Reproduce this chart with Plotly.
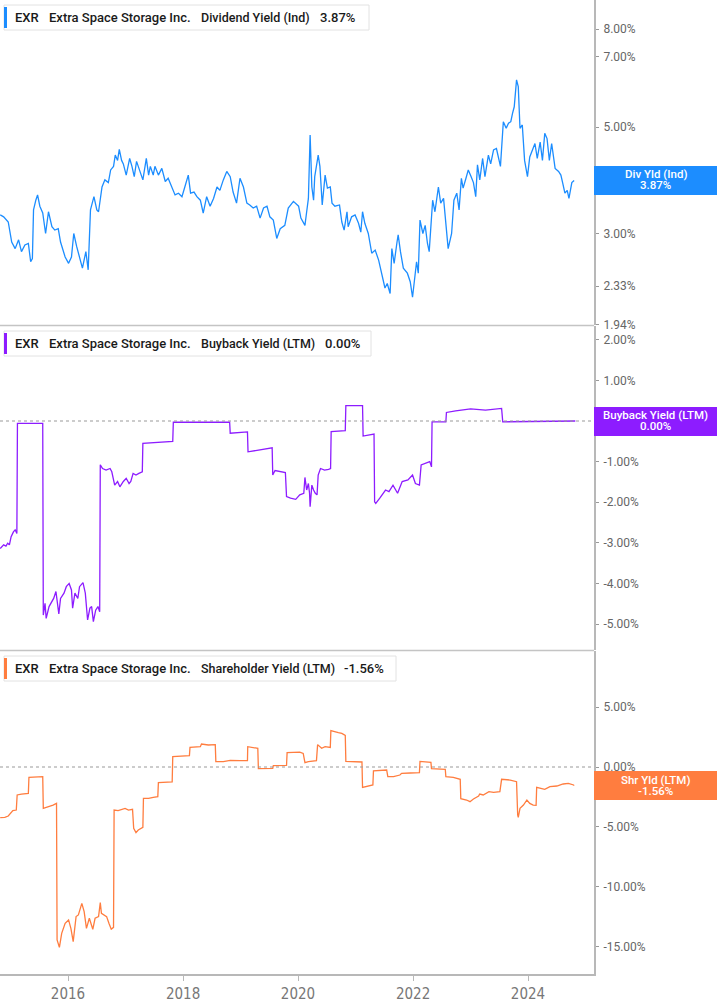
import numpy as np
import pandas as pd
import plotly.graph_objects as go

# ---------------- data (dates as decimal years, values in %) ----------------
div_t = [2014.82, 2014.88, 2014.96, 2015.02, 2015.08, 2015.14, 2015.19, 2015.25, 2015.31, 2015.35,
         2015.38, 2015.40, 2015.44, 2015.47, 2015.51, 2015.56, 2015.61, 2015.66, 2015.72, 2015.77,
         2015.83, 2015.87, 2015.95, 2016.01, 2016.06, 2016.10, 2016.15, 2016.21, 2016.25, 2016.31,
         2016.35, 2016.39, 2016.45, 2016.50, 2016.53, 2016.59, 2016.64, 2016.70, 2016.74, 2016.79,
         2016.82, 2016.86, 2016.89, 2016.93, 2016.96, 2017.01, 2017.07, 2017.11, 2017.15, 2017.19,
         2017.24, 2017.30, 2017.36, 2017.40, 2017.43, 2017.48, 2017.51, 2017.57, 2017.63, 2017.69,
         2017.74, 2017.80, 2017.86, 2017.92, 2017.98, 2018.03, 2018.09, 2018.13, 2018.19, 2018.24,
         2018.30, 2018.35, 2018.41, 2018.47, 2018.53, 2018.59, 2018.64, 2018.70, 2018.76, 2018.82,
         2018.87, 2018.93, 2018.99, 2019.05, 2019.11, 2019.16, 2019.22, 2019.28, 2019.34, 2019.40,
         2019.46, 2019.51, 2019.57, 2019.63, 2019.69, 2019.77, 2019.83, 2019.92, 2020.01, 2020.05,
         2020.12, 2020.15, 2020.18, 2020.21, 2020.24, 2020.27, 2020.29, 2020.35, 2020.38, 2020.42,
         2020.47, 2020.51, 2020.56, 2020.59, 2020.64, 2020.72, 2020.76, 2020.80, 2020.85, 2020.87,
         2020.93, 2020.99, 2021.05, 2021.09, 2021.12, 2021.16, 2021.22, 2021.28, 2021.34, 2021.40,
         2021.45, 2021.51, 2021.55, 2021.60, 2021.63, 2021.67, 2021.72, 2021.74, 2021.78, 2021.83,
         2021.90, 2021.95, 2021.99, 2022.02, 2022.06, 2022.09, 2022.12, 2022.17, 2022.21, 2022.25,
         2022.28, 2022.34, 2022.38, 2022.44, 2022.48, 2022.53, 2022.57, 2022.61, 2022.67, 2022.71,
         2022.76, 2022.80, 2022.84, 2022.87, 2022.92, 2022.96, 2023.01, 2023.05, 2023.09, 2023.12,
         2023.16, 2023.21, 2023.25, 2023.31, 2023.35, 2023.40, 2023.45, 2023.52, 2023.57, 2023.62,
         2023.66, 2023.70, 2023.73, 2023.76, 2023.80, 2023.83, 2023.86, 2023.90, 2023.94, 2023.99,
         2024.03, 2024.08, 2024.12, 2024.16, 2024.21, 2024.25, 2024.29, 2024.33, 2024.37, 2024.41,
         2024.47, 2024.53, 2024.57, 2024.60, 2024.64, 2024.68, 2024.71, 2024.76, 2024.80]
div_v = [3.28, 3.25, 3.17, 2.88, 2.79, 2.91, 2.75, 2.84, 2.86, 2.62,
         2.66, 3.36, 3.52, 3.61, 3.42, 3.31, 3.00, 3.33, 3.10, 3.05,
         3.07, 2.88, 2.68, 2.60, 2.68, 3.00, 2.82, 2.64, 2.54, 2.75,
         2.52, 3.36, 3.58, 3.36, 3.33, 3.75, 3.88, 3.83, 4.07, 4.14,
         4.37, 4.26, 4.49, 4.26, 4.19, 3.97, 4.30, 4.14, 3.94, 4.24,
         4.07, 3.88, 4.30, 3.97, 4.14, 3.97, 4.14, 3.97, 4.10, 3.85,
         3.91, 3.77, 3.61, 3.64, 3.58, 3.75, 3.97, 3.64, 3.66, 3.58,
         3.52, 3.31, 3.58, 3.42, 3.55, 3.75, 3.69, 3.88, 4.04, 3.94,
         3.66, 3.47, 3.91, 3.75, 3.47, 3.44, 3.39, 3.42, 3.23, 3.39,
         3.42, 3.25, 3.20, 2.93, 3.07, 3.12, 3.39, 3.50, 3.42, 3.23,
         3.12, 3.33, 3.55, 4.81, 3.75, 3.52, 3.94, 4.37, 4.14, 3.44,
         3.97, 3.73, 3.75, 3.47, 3.42, 3.44, 3.17, 3.05, 3.33, 3.10,
         3.25, 3.28, 3.15, 3.02, 3.33, 3.15, 3.00, 2.73, 2.77, 2.64,
         2.48, 2.31, 2.36, 2.25, 2.79, 2.60, 2.88, 2.98, 2.75, 2.54,
         2.48, 2.38, 2.21, 2.40, 2.62, 2.48, 3.20, 3.00, 3.12, 2.86,
         2.75, 3.52, 3.33, 3.75, 3.47, 3.55, 3.20, 2.79, 3.00, 3.52,
         3.64, 3.36, 3.91, 3.73, 3.91, 4.07, 3.94, 3.83, 3.58, 4.17,
         3.88, 4.30, 3.94, 4.37, 4.19, 4.48, 4.51, 4.14, 5.13, 4.97,
         5.09, 5.13, 5.34, 5.51, 6.27, 6.07, 4.97, 5.05, 4.26, 3.94,
         4.33, 4.51, 4.62, 4.30, 4.65, 4.26, 4.85, 4.73, 4.26, 4.62,
         4.10, 4.04, 3.97, 3.83, 3.64, 3.69, 3.55, 3.83, 3.87]

bb_t = [2014.82, 2014.88, 2014.92, 2014.95, 2014.98, 2015.01, 2015.05, 2015.08, 2015.11, 2015.12,
        2015.56, 2015.57, 2015.60, 2015.62, 2015.67, 2015.71, 2015.75, 2015.79, 2015.84, 2015.87,
        2015.93, 2015.97, 2016.02, 2016.06, 2016.08, 2016.12, 2016.17, 2016.20, 2016.26, 2016.30,
        2016.34, 2016.38, 2016.41, 2016.44, 2016.48, 2016.52, 2016.55, 2016.56, 2016.60, 2016.66,
        2016.73, 2016.76, 2016.81, 2016.86, 2016.90, 2016.96, 2017.01, 2017.06, 2017.09, 2017.13,
        2017.18, 2017.23, 2017.29, 2017.30, 2017.82, 2017.83, 2018.81, 2018.82, 2019.12, 2019.13,
        2019.55, 2019.56, 2019.60, 2019.78, 2019.80, 2019.87, 2019.96, 2020.03, 2020.10, 2020.12,
        2020.15, 2020.18, 2020.20, 2020.21, 2020.24, 2020.27, 2020.30, 2020.33, 2020.35, 2020.39,
        2020.46, 2020.53, 2020.565, 2020.575, 2020.82, 2020.83, 2021.12, 2021.13, 2021.32, 2021.33,
        2021.35, 2021.42, 2021.52, 2021.58, 2021.65, 2021.73, 2021.81, 2021.91, 2021.99, 2022.04,
        2022.11, 2022.14, 2022.21, 2022.29, 2022.32, 2022.33, 2022.57, 2022.58, 2022.74, 2023.00,
        2023.26, 2023.54, 2023.56, 2024.82]
bb_v = [-3.14, -3.05, -3.08, -3.01, -3.05, -2.85, -2.73, -2.68, -2.77, -0.06,
        -0.06, -4.78, -4.49, -4.86, -4.57, -4.45, -4.37, -4.20, -4.75, -4.37,
        -4.24, -4.08, -4.00, -4.16, -4.61, -4.24, -4.37, -4.08, -3.98, -4.24,
        -4.90, -4.61, -4.57, -4.94, -4.66, -4.57, -4.70, -1.08, -1.17, -1.21,
        -1.17, -1.25, -1.58, -1.49, -1.62, -1.49, -1.41, -1.54, -1.49, -1.29,
        -1.33, -1.29, -1.25, -0.55, -0.50, -0.03, -0.03, -0.30, -0.27, -0.76,
        -0.66, -1.33, -1.22, -1.27, -1.86, -1.90, -1.93, -1.82, -1.78, -1.39,
        -1.70, -1.54, -1.78, -2.11, -1.58, -1.70, -1.78, -1.82, -1.33, -1.17,
        -1.21, -1.19, -1.17, -0.26, -0.24, 0.38, 0.38, -0.37, -0.32, -1.99,
        -2.03, -1.90, -1.70, -1.74, -1.58, -1.78, -1.49, -1.45, -1.33, -1.54,
        -1.58, -1.08, -1.04, -1.00, -1.13, -0.02, -0.02, 0.21, 0.25, 0.30,
        0.27, 0.31, -0.02, 0.00]

shy_t = [2014.82, 2014.90, 2014.96, 2015.00, 2015.04, 2015.10, 2015.115, 2015.19, 2015.31, 2015.32,
         2015.56, 2015.57, 2015.63, 2015.69, 2015.74, 2015.80, 2015.81, 2015.85, 2015.89, 2015.95,
         2016.01, 2016.05, 2016.09, 2016.14, 2016.18, 2016.24, 2016.28, 2016.32, 2016.37, 2016.43,
         2016.47, 2016.53, 2016.56, 2016.58, 2016.63, 2016.67, 2016.71, 2016.75, 2016.79, 2016.80,
         2016.87, 2016.93, 2016.99, 2017.05, 2017.12, 2017.14, 2017.18, 2017.22, 2017.30, 2017.31,
         2017.40, 2017.48, 2017.56, 2017.57, 2017.72, 2017.81, 2017.82, 2017.95, 2018.11, 2018.12,
         2018.30, 2018.32, 2018.44, 2018.56, 2018.57, 2018.70, 2018.82, 2018.99, 2019.12, 2019.125,
         2019.22, 2019.30, 2019.31, 2019.45, 2019.56, 2019.57, 2019.80, 2019.81, 2019.92, 2020.03,
         2020.09, 2020.12, 2020.18, 2020.27, 2020.32, 2020.34, 2020.38, 2020.41, 2020.47, 2020.56,
         2020.57, 2020.64, 2020.70, 2020.76, 2020.82, 2020.83, 2020.96, 2021.11, 2021.12, 2021.22,
         2021.30, 2021.31, 2021.43, 2021.54, 2021.56, 2021.66, 2021.77, 2021.80, 2021.95, 2022.11,
         2022.12, 2022.24, 2022.31, 2022.32, 2022.44, 2022.56, 2022.57, 2022.70, 2022.82, 2022.83,
         2022.93, 2022.99, 2023.05, 2023.14, 2023.16, 2023.22, 2023.32, 2023.40, 2023.51, 2023.54,
         2023.69, 2023.80, 2023.82, 2023.83, 2023.86, 2023.92, 2023.98, 2024.03, 2024.09, 2024.14,
         2024.15, 2024.21, 2024.29, 2024.38, 2024.50, 2024.61, 2024.70, 2024.79, 2024.80]
shy_v = [-4.24, -4.21, -4.10, -3.87, -3.65, -3.60, -2.34, -2.26, -2.20, -0.86,
         -0.81, -3.46, -3.37, -3.26, -3.18, -3.04, -14.46, -15.08, -13.91, -13.07,
         -12.79, -13.49, -14.60, -12.51, -12.37, -11.40, -12.10, -13.49, -12.65, -13.57,
         -12.65, -12.51, -11.34, -12.24, -12.37, -12.51, -13.07, -13.57, -13.41, -3.60,
         -3.65, -3.54, -3.46, -3.60, -3.54, -5.13, -5.49, -5.27, -5.04, -2.62,
         -2.62, -2.54, -2.48, -1.31, -1.25, -1.25, 0.86, 0.92, 0.95, 1.64,
         1.70, 1.92, 1.84, 1.87, 0.45, 0.45, 0.56, 0.53, 0.53, 1.70,
         1.59, 1.56, -0.14, -0.14, -0.11, 0.11, 0.14, 1.20, 1.25, 1.25,
         1.14, 0.36, 0.45, 0.53, 0.53, 1.87, 1.70, 1.56, 1.70, 1.64,
         3.04, 2.93, 2.87, 2.81, 2.65, 0.47, 0.45, 0.42, -1.70, -1.56,
         -1.50, -0.33, -0.31, -0.25, -0.81, -0.81, -0.67, -0.53, -0.50, -0.47,
         0.47, 0.45, 0.39, -0.14, -0.17, -0.20, -0.81, -0.86, -1.03, -2.65,
         -2.76, -2.90, -2.68, -2.42, -2.26, -2.34, -2.06, -2.12, -2.06, -1.03,
         -1.09, -1.23, -4.01, -4.21, -3.46, -3.18, -2.76, -3.04, -3.18, -3.21,
         -1.70, -1.78, -1.87, -1.64, -1.59, -1.42, -1.37, -1.50, -1.56]

div_ticks = [1.94, 2.33, 3.00, 5.00, 7.00, 8.00]
bb_ticks = [-5, -4, -3, -2, -1, 0, 1, 2]
shy_ticks = [-15, -10, -5, 0, 5]
year_ticks = [2016, 2018, 2020, 2022, 2024]

last_div, last_bb, last_shy = 3.87, 0.00, -1.56

# ---------------- helpers ----------------
def to_dates(ts):
    out = []
    for t in ts:
        y = int(np.floor(t))
        a = pd.Timestamp(year=y, month=1, day=1)
        b = pd.Timestamp(year=y + 1, month=1, day=1)
        out.append(a + (b - a) * (t - y))
    return out

W, H = 717, 1005
ML, MR, MT, MB = 0, 123, 0, 31
PW, PH = W - ML - MR, H - MT - MB

def px(x):
    return (x - ML) / PW

def py(y):
    return 1 - (y - MT) / PH

BLUE = "#1c8dff"
PURPLE = "#8d1cff"
ORANGE = "#ff7d3f"
AXC = "#b8b8b8"
TICKC = "#666666"

fig = go.Figure()
fig.add_trace(go.Scatter(x=to_dates(div_t), y=div_v, mode="lines",
                         line=dict(color=BLUE, width=1.3), xaxis="x", yaxis="y", hoverinfo="skip"))
fig.add_trace(go.Scatter(x=to_dates(bb_t), y=bb_v, mode="lines",
                         line=dict(color=PURPLE, width=1.3), xaxis="x", yaxis="y2", hoverinfo="skip"))
fig.add_trace(go.Scatter(x=to_dates(shy_t), y=shy_v, mode="lines",
                         line=dict(color=ORANGE, width=1.3), xaxis="x", yaxis="y3", hoverinfo="skip"))

tickfont = dict(family="Roboto, Arial, sans-serif", size=12, color=TICKC)
common_y = dict(side="right", anchor="x", showgrid=False, zeroline=False, showline=True,
                linecolor=AXC, linewidth=2, ticks="outside", ticklen=3, tickcolor="#999",
                tickfont=tickfont, fixedrange=True, ticklabelstandoff=2)

fig.update_layout(
    width=W, height=H, margin=dict(l=ML, r=MR, t=MT, b=MB),
    paper_bgcolor="white", plot_bgcolor="white", showlegend=False,
    xaxis=dict(domain=[0, 1], anchor="y3", type="date",
               range=["2014-10-26", "2025-02-23"],
               tickvals=[f"{y}-01-01" for y in year_ticks], ticktext=[str(y) for y in year_ticks],
               showgrid=False, zeroline=False, showline=True, linecolor=AXC, linewidth=2,
               ticks="outside", ticklen=5, tickcolor=AXC,
               tickfont=dict(family="Liberation Sans Narrow, DejaVu Sans Condensed, Roboto, sans-serif",
                             size=15, color="#777777")),
    yaxis=dict(domain=[py(325), 1], type="log", range=[0.2865, 0.9636],
               tickvals=div_ticks, ticktext=[f"{v:.2f}%" for v in div_ticks], **common_y),
    yaxis2=dict(domain=[py(650), py(326)], range=[-5.64, 2.34],
                tickvals=bb_ticks, ticktext=[f"{v:.2f}%" for v in bb_ticks], **common_y),
    yaxis3=dict(domain=[0, py(651)], range=[-17.31, 9.70],
                tickvals=shy_ticks, ticktext=[f"{v:.2f}%" for v in shy_ticks], **common_y),
)

shapes = []
# panel dividers
for yy in (325.5, 650.5):
    shapes.append(dict(type="line", xref="paper", yref="paper", x0=0, x1=1, y0=py(yy), y1=py(yy),
                       line=dict(color="#c4c4c4", width=1.5)))
# dotted zero lines
for ax in ("y2", "y3"):
    shapes.append(dict(type="line", xref="paper", yref=ax, x0=0, x1=1, y0=0, y1=0,
                       line=dict(color="#999999", width=1, dash="dot")))

annotations = []
legend_rows = [
    (5, 30, 369, BLUE, "Dividend Yield (Ind)", f"{last_div:.2f}%", 318),
    (331, 356, 371, PURPLE, "Buyback Yield (LTM)", f"{last_bb:.2f}%", 323),
    (656, 681, 396, ORANGE, "Shareholder Yield (LTM)", f"{last_shy:.2f}%", 342),
]
lfont = dict(family="Roboto, Arial, sans-serif", size=13, color="#1a1a1a", weight=500)
mfont = dict(family="Roboto, Arial, sans-serif", size=12.5, color="#1a1a1a", weight=500)
for (y0, y1, x1, col, metric, val, vx) in legend_rows:
    shapes.append(dict(type="rect", xref="paper", yref="paper", x0=px(4), x1=px(x1),
                       y0=py(y1), y1=py(y0), fillcolor="white",
                       line=dict(color="#e2e2e2", width=1), layer="above"))
    shapes.append(dict(type="rect", xref="paper", yref="paper", x0=px(4), x1=px(7),
                       y0=py(y1 - 2), y1=py(y0 + 2), fillcolor=col, line=dict(width=0), layer="above"))
    yc = py((y0 + y1) / 2)
    for tx, txt, f in ((13, "EXR", lfont), (47, "Extra Space Storage Inc.", lfont),
                       (199, metric, mfont), (vx, val, lfont)):
        annotations.append(dict(xref="paper", yref="paper", x=px(tx), y=yc, text=txt,
                                showarrow=False, xanchor="left", yanchor="middle", font=f))

# right-side value tags
tags = [
    ("y", np.log10(last_div), BLUE, "Div Yld (Ind)", f"{last_div:.2f}%"),
    ("y2", last_bb, PURPLE, "Buyback Yield (LTM)", f"{last_bb:.2f}%"),
    ("y3", last_shy, ORANGE, "Shr Yld (LTM)", f"{last_shy:.2f}%"),
]
tfont = dict(family="Roboto, Arial, sans-serif", size=11.5, color="white", weight=500)
for (ax, yv, col, l1, l2) in tags:
    annotations.append(dict(xref="paper", yref=ax, x=1.0, y=yv, text=" ", showarrow=False,
                            xanchor="left", yanchor="middle", width=123, height=29,
                            bgcolor=col, borderpad=0, borderwidth=0))
    for txt, sh in ((l1, 6), (l2, -5)):
        annotations.append(dict(xref="paper", yref=ax, x=px(655.5), y=yv, yshift=sh, text=txt,
                                showarrow=False, xanchor="center", yanchor="middle", font=tfont))

fig.update_layout(shapes=shapes, annotations=annotations)
fig.write_html("out.html", config={"displayModeBar": False},
               post_script="document.body.style.margin='0';document.body.style.overflow='hidden';")
